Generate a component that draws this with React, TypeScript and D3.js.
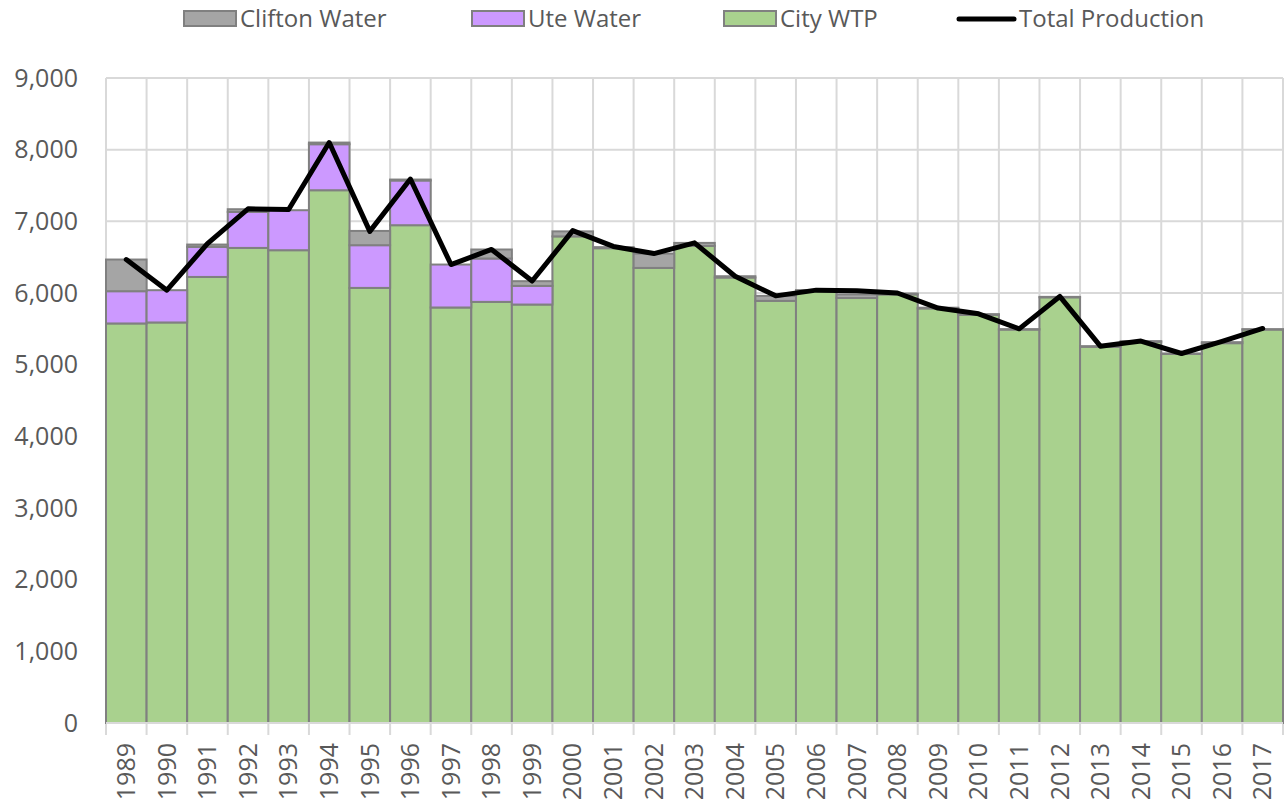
import * as d3 from 'd3';
import React, { useEffect, useRef } from 'react';

// chart values
const years = ['1989','1990','1991','1992','1993','1994','1995','1996','1997','1998','1999','2000','2001','2002','2003','2004','2005','2006','2007','2008','2009','2010','2011','2012','2013','2014','2015','2016','2017'];
const cityWTP = [5575,5589,6224,6629,6597,7434,6071,6946,5798,5876,5839,6790,6625,6350,6657,6216,5890,6030,5930,5980,5785,5695,5490,5940,5250,5320,5150,5300,5490];
const uteWater = [450,450,420,502,558,642,596,624,599,605,260,0,0,0,0,0,0,0,0,0,0,0,0,0,0,0,0,0,0];
const cliftonWater = [442,0,32,38,0,23,199,13,0,126,66,70,15,200,42,18,70,10,50,13,10,10,5,6,8,8,6,14,5];
const totalProduction = [6467,6039,6690,7175,7165,8099,6860,7590,6397,6608,6167,6870,6650,6550,6700,6234,5960,6040,6030,6000,5790,5710,5500,5952,5258,5330,5156,5325,5505];
const yTicks = [0,1000,2000,3000,4000,5000,6000,7000,8000,9000];

const legendItems = [
	{ label: 'Clifton Water', fill: '#a5a5a5', kind: 'rect' },
	{ label: 'Ute Water', fill: '#cc99ff', kind: 'rect' },
	{ label: 'City WTP', fill: '#a9d18e', kind: 'rect' },
	{ label: 'Total Production', fill: '#000000', kind: 'line' },
];

const W = 1286, H = 806;
const FONT = "'Open Sans', sans-serif";

const App = () => {
	const chartRef = useRef(null);

	useEffect(() => {
		document.body.style.margin = '0';
		drawChart();
	}, []);

	const drawChart = () => {
		const svg = d3.select(chartRef.current);
		svg.selectAll('*').remove();

		const margin = { top: 78, right: 3, bottom: 83, left: 106 };
		const width = W - margin.left - margin.right;
		const height = H - margin.top - margin.bottom;
		const g = svg.append('g').attr('transform', `translate(${margin.left},${margin.top})`);

		const x = d3.scaleBand().domain(years).range([0, width]).padding(0);
		const y = d3.scaleLinear().domain([0, 9000]).range([height, 0]);

		// horizontal grid
		g.append('g').selectAll('line').data(yTicks).enter().append('line')
			.attr('x1', 0).attr('x2', width)
			.attr('y1', d => y(d)).attr('y2', d => y(d))
			.attr('stroke', '#d9d9d9').attr('stroke-width', 2);

		// vertical grid + tick marks at category edges
		const edges = years.map(yr => x(yr)).concat([width]);
		g.append('g').selectAll('line').data(edges).enter().append('line')
			.attr('x1', d => d).attr('x2', d => d)
			.attr('y1', 0).attr('y2', height + 12)
			.attr('stroke', '#d9d9d9').attr('stroke-width', 2);

		// y labels
		g.append('g').selectAll('text').data(yTicks).enter().append('text')
			.attr('x', -28).attr('y', d => y(d))
			.attr('dy', '0.35em')
			.attr('text-anchor', 'end')
			.style('font-family', FONT).style('font-size', '25px')
			.attr('fill', '#595959')
			.text(d => d3.format(',')(d));

		// stacked bars
		const rows = years.map((yr, i) => ({ year: yr, city: cityWTP[i], ute: uteWater[i], clifton: cliftonWater[i] }));
		const keys = ['city', 'ute', 'clifton'];
		const colors = { city: '#a9d18e', ute: '#cc99ff', clifton: '#a5a5a5' };
		const series = d3.stack().keys(keys)(rows);

		g.append('g').selectAll('g').data(series).enter().append('g')
			.attr('fill', d => colors[d.key])
			.selectAll('rect')
			.data(d => d.filter(s => s[1] - s[0] > 0))
			.enter().append('rect')
			.attr('x', d => x(d.data.year))
			.attr('y', d => y(d[1]))
			.attr('width', x.bandwidth())
			.attr('height', d => y(d[0]) - y(d[1]))
			.attr('stroke', '#808080')
			.attr('stroke-width', 2);

		// axis baseline
		g.append('line')
			.attr('x1', 0).attr('x2', width)
			.attr('y1', height).attr('y2', height)
			.attr('stroke', '#d9d9d9').attr('stroke-width', 2);

		// total production line
		const line = d3.line()
			.x((d, i) => x(years[i]) + x.bandwidth() / 2)
			.y(d => y(d));
		g.append('path')
			.datum(totalProduction)
			.attr('d', line)
			.attr('fill', 'none')
			.attr('stroke', '#000000')
			.attr('stroke-width', 5)
			.attr('stroke-linejoin', 'round')
			.attr('stroke-linecap', 'round');

		// x labels
		g.append('g').selectAll('text').data(years).enter().append('text')
			.attr('transform', d => `translate(${x(d) + x.bandwidth() / 2},${height + 20}) rotate(-90)`)
			.attr('dy', '0.35em')
			.attr('text-anchor', 'end')
			.style('font-family', FONT).style('font-size', '25px')
			.attr('fill', '#595959')
			.text(d => d);

		// legend
		const legendX = [184, 472, 724, 959];
		const lg = svg.append('g');
		legendItems.forEach((item, i) => {
			const lx = legendX[i];
			if (item.kind === 'rect') {
				lg.append('rect')
					.attr('x', lx).attr('y', 11)
					.attr('width', 52).attr('height', 15)
					.attr('fill', item.fill)
					.attr('stroke', '#808080').attr('stroke-width', 2);
			} else {
				lg.append('line')
					.attr('x1', lx).attr('x2', lx + 55)
					.attr('y1', 19).attr('y2', 19)
					.attr('stroke', item.fill).attr('stroke-width', 5)
					.attr('stroke-linecap', 'round');
			}
			lg.append('text')
				.attr('x', lx + (item.kind === 'rect' ? 56 : 60))
				.attr('y', 19)
				.attr('dy', '0.35em')
				.style('font-family', FONT).style('font-size', '24px')
				.attr('fill', '#595959')
				.text(item.label);
		});
	};

	return (
		<svg ref={chartRef} width={W} height={H} style={{ display: 'block', background: '#ffffff' }}></svg>
	);
};

export default App;
